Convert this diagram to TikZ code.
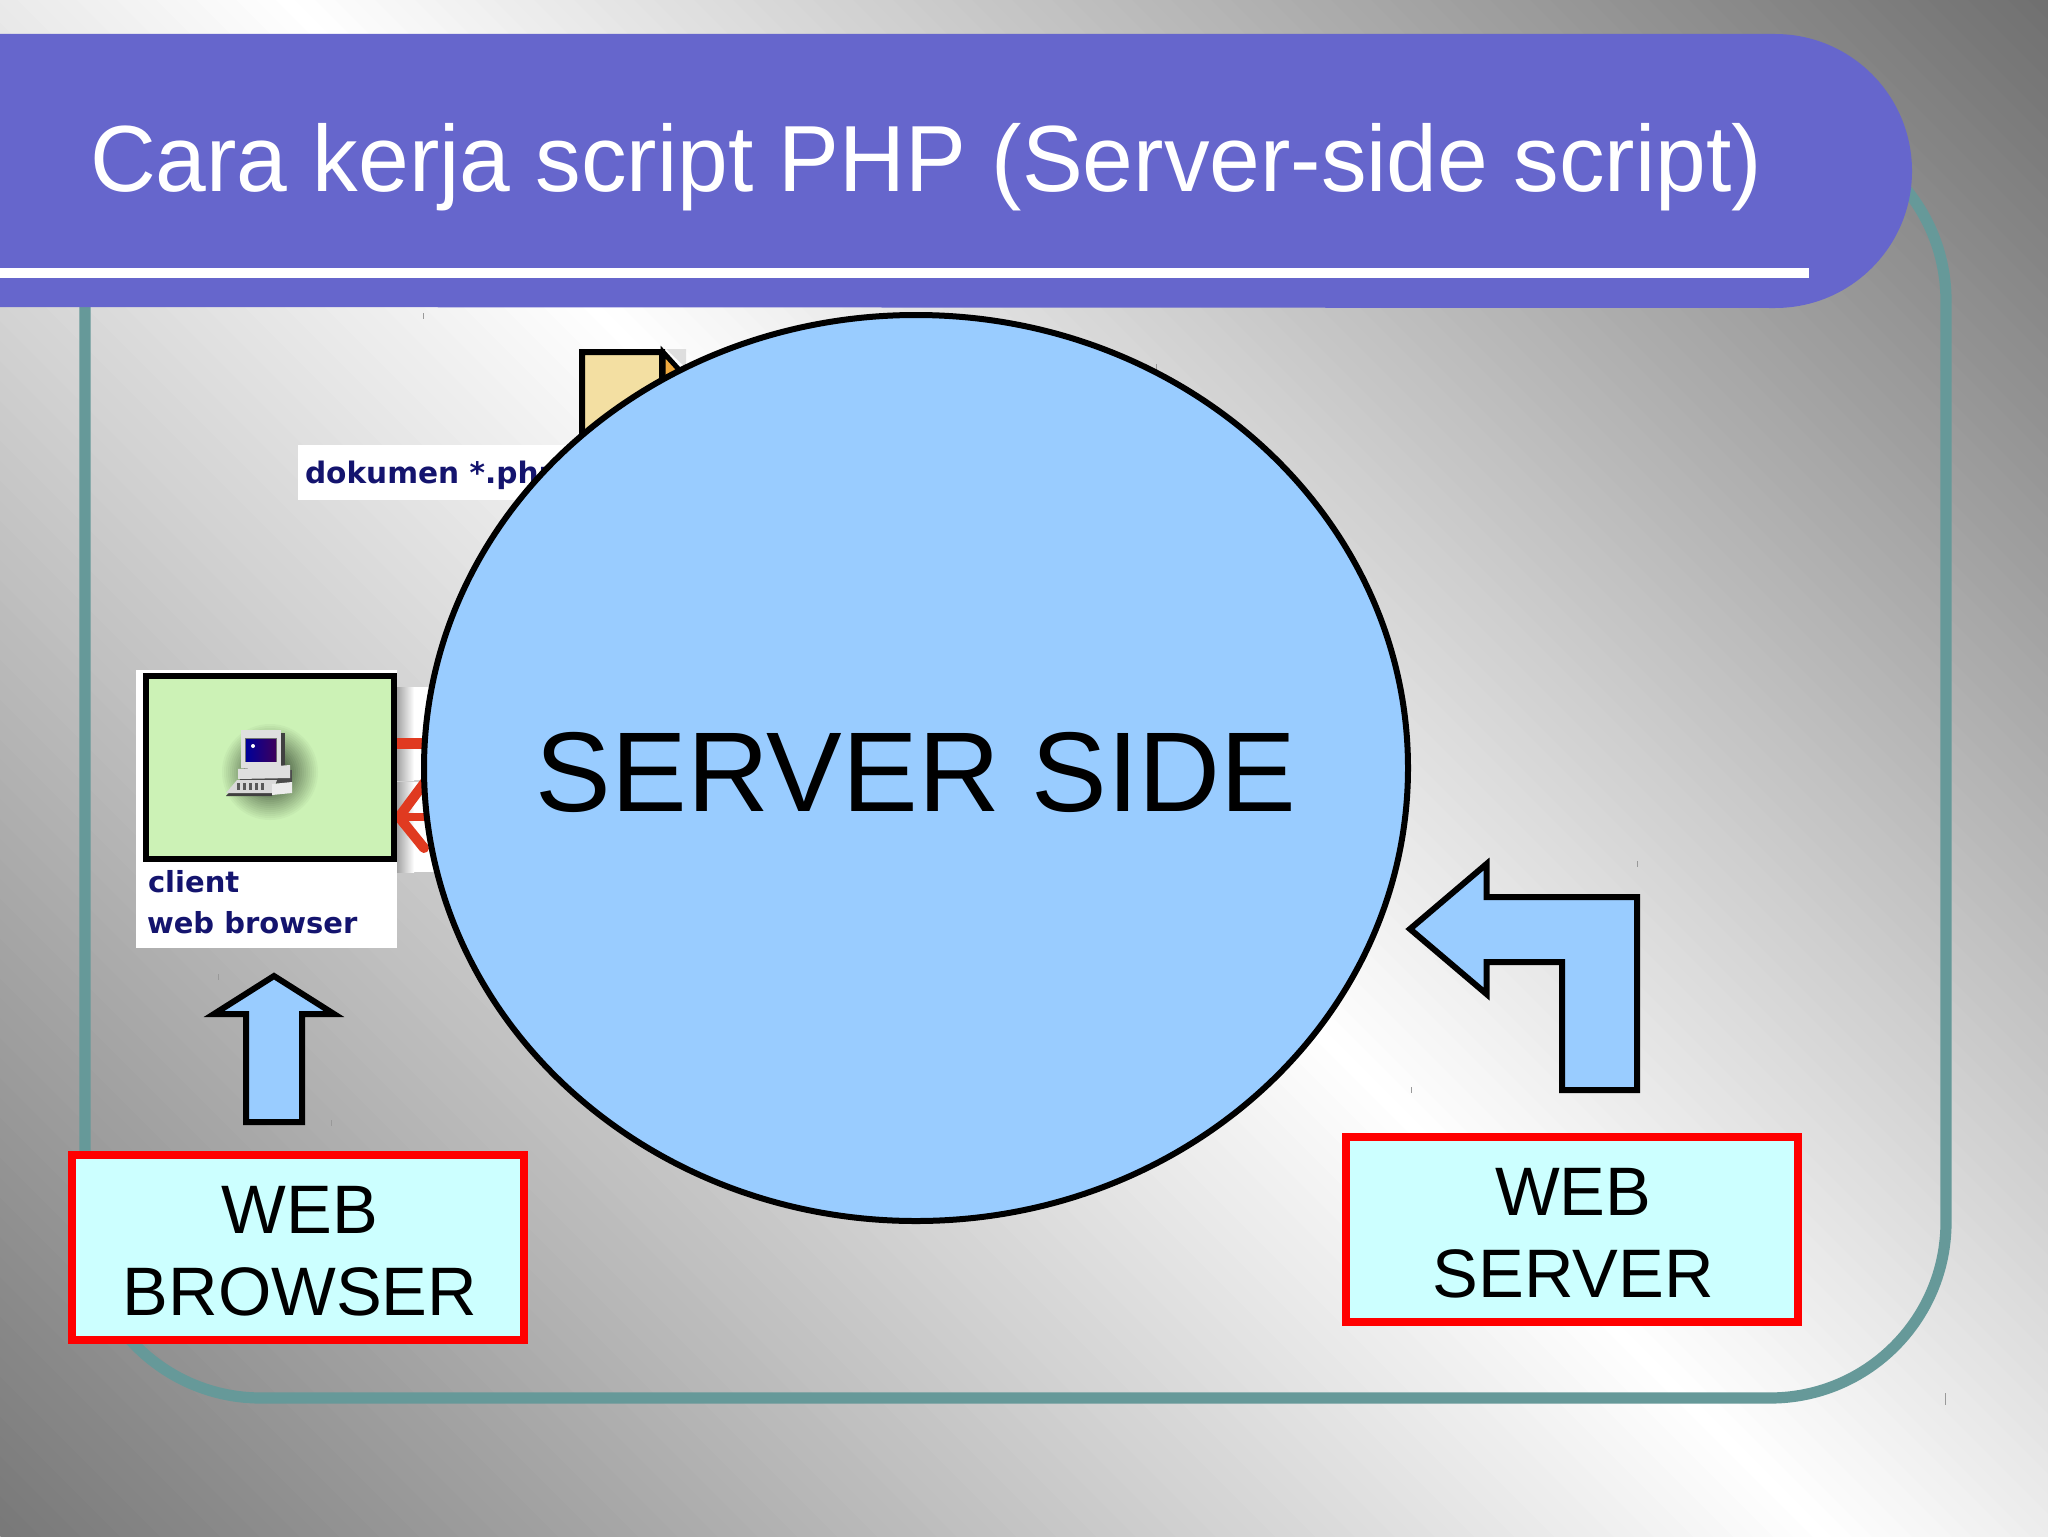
\documentclass[tikz,border=0pt]{standalone}
\usepackage{fontspec}
\setmainfont{Liberation Sans}
\newfontfamily\djv{DejaVu Sans}
\usetikzlibrary{shapes.geometric}
\definecolor{bandc}{HTML}{6666CC}
\definecolor{framec}{HTML}{669999}
\definecolor{arrowc}{HTML}{99CCFF}
\definecolor{boxc}{HTML}{CCFFFF}
\definecolor{navyc}{HTML}{14146E}
\definecolor{greenc}{HTML}{CCF2B6}
\definecolor{docc}{HTML}{F3DFA2}
\definecolor{foldc}{HTML}{EFA93F}
\definecolor{redarrow}{HTML}{E03A20}
\definecolor{glowa}{HTML}{3F5238}
\tikzset{
  x=0.5pt,y=-0.5pt,
  blockarrow/.style={draw=black,fill=arrowc,line width=3pt,miter limit=10},
  labelbox/.style={draw=red,fill=boxc,line width=4pt,outer sep=0pt,inner sep=0pt,minimum width=226pt,minimum height=92.5pt,align=center,font=\fontsize{34.3}{41}\selectfont},
  whitebg/.style={fill=white,inner sep=0pt,outer sep=0pt,anchor=north west},
  smalltxt/.style={inner sep=0pt,outer sep=0pt,anchor=base west,text=navyc,font=\djv\bfseries\fontsize{14.5}{16}\selectfont},
  tick/.style={draw=gray!80,line width=0.5pt},
}
\begin{document}
\begin{tikzpicture}
\useasboundingbox (0,0) rectangle (2048,1536);
% background gradient
\begin{scope}
\clip (0,0) rectangle (2048,1536);
\foreach \i in {0,...,179}{
  \pgfmathsetmacro{\u}{-1536+\i*19.9111}
  \pgfmathsetmacro{\v}{1-(\u<280?0.000286:0.00032)*abs(\u-280)}
  \definecolor{bgc}{gray}{\v}
  \fill[bgc] (\u-100,-100) -- (\u+1700,1700) -- (4000,1700) -- (4000,-100) -- cycle;
}
\end{scope}
% frame
\draw[framec,line width=5.6pt,rounded corners=88pt] (85,125) rectangle (1946,1398);
% ticks
\foreach \tx/\ty/\th in {423/316/3,1156/367/3,1637/864/3,1411/1090/3,218/977/3,331/1123/3,1945/1399/6}{
  \draw[tick] (\tx,\ty-\th) -- (\tx,\ty+\th);
}
% document icon
\fill[gray!60,opacity=.4] (666,349) -- (686,349) -- (686,368) -- cycle;
\filldraw[fill=docc,draw=black,line width=3pt] (582,352) -- (662,352) -- (662,420) -- (582,450) -- cycle;
\filldraw[fill=foldc,draw=black,line width=2.5pt] (663,352) -- (692,384) -- (663,384) -- cycle;
% dokumen label
\node[whitebg,minimum width=135pt,minimum height=27.5pt] (dokbg) at (298,445) {};
\node[smalltxt,font=\djv\bfseries\fontsize{14.8}{18}\selectfont] (dok) at (305,483) {dokumen *.php};
% arrows panel
\fill[white] (395,687) rectangle (445,780);
\fill[white] (395,782) rectangle (445,872);
\shade[left color=gray!80,right color=white] (395,687) rectangle (414,780);
\shade[left color=gray!80,right color=white] (395,782) rectangle (414,872);
\fill[redarrow] (394,738) rectangle (440,749);
\draw[redarrow,line width=4pt] (398,817) -- (440,817);
\draw[redarrow,line width=5pt,line cap=round,line join=miter] (428,778) -- (399,817) -- (424,848);
% client
\node[whitebg,minimum width=130.5pt,minimum height=139pt] (clientbg) at (136,670) {};
\node[draw=black,fill=greenc,line width=3pt,outer sep=0pt,inner sep=0pt,minimum width=124pt,minimum height=91.5pt,anchor=north west] (clientbox) at (146,676) {};
\node[smalltxt] (client) at (148,892) {client};
\node[smalltxt] (webbrowser) at (147,933) {web browser};
% computer icon
\foreach \r in {50,48,...,10}{
  \pgfmathsetmacro{\p}{100*(\r-10)/40}
  \fill[greenc!\p!glowa] (270,772) circle[radius=\r];
}
\fill[black!75] (244,733) rectangle (285,772);
\fill[gray!25] (241,730) rectangle (281,768);
\fill[black!55] (245,738) rectangle (277,762);
\shade[left color=blue!60!black,right color=blue!60!red!60!black] (246,739) rectangle (276,761);
\fill[white] (253,746) circle[radius=2];
\fill[black!70] (240,770) rectangle (292,783);
\fill[gray!25] (238,769) -- (290,765) -- (290,778) -- (238,779) -- cycle;
\fill[black!75] (226,796) -- (238,783) -- (274,783) -- (272,796) -- cycle;
\fill[gray!30] (226,793) -- (237,780) -- (277,780) -- (272,793) -- cycle;
\foreach \kx in {237,243,...,261}{\fill[black!65] (\kx,783) rectangle (\kx+3,790);}
\fill[gray!15] (272,784) -- (292,782) -- (292,793) -- (272,795) -- cycle;
% block arrows
\draw[blockarrow] (274,976) -- (334,1014) -- (302,1014) -- (302,1122) -- (246,1122) -- (246,1014) -- (214,1014) -- cycle;
\draw[blockarrow] (1410,929) -- (1486.5,864) -- (1486.5,897) -- (1637,897) -- (1637,1090) -- (1562,1090) -- (1562,962) -- (1486.5,962) -- (1486.5,994) -- cycle;
% label boxes
\node[labelbox] (browser) at (298,1247.5) {\rule{0pt}{27pt}\hspace*{2pt}WEB\\\hspace*{2pt}BROWSER};
\node[labelbox] (server) at (1572,1229) {\rule{0pt}{28pt}\hspace*{1.3pt}WEB\\\hspace*{1.3pt}SERVER};
% server side ellipse
\node[ellipse,draw=black,fill=arrowc,line width=3pt,outer sep=0pt,inner sep=0pt,minimum width=492pt,minimum height=453pt] (serverside) at (916,768) {};
\node[inner sep=0pt,outer sep=0pt,font=\fontsize{56.7}{60}\selectfont] (sstext) at (916,772) {SERVER SIDE};
% title band
\fill[bandc] (0,34) -- (1775,34) arc[start angle=90,end angle=-90,radius=68.5pt] -- (0,307) -- cycle;
\fill[white] (0,268) rectangle (1809,278);
\node[inner sep=0pt,outer sep=0pt,anchor=base west,text=white,font=\fontsize{47}{52}\selectfont] (title) at (90,191) {\scalebox{0.97}[1]{Cara kerja script PHP (Server-side script)}};
\end{tikzpicture}
\end{document}
